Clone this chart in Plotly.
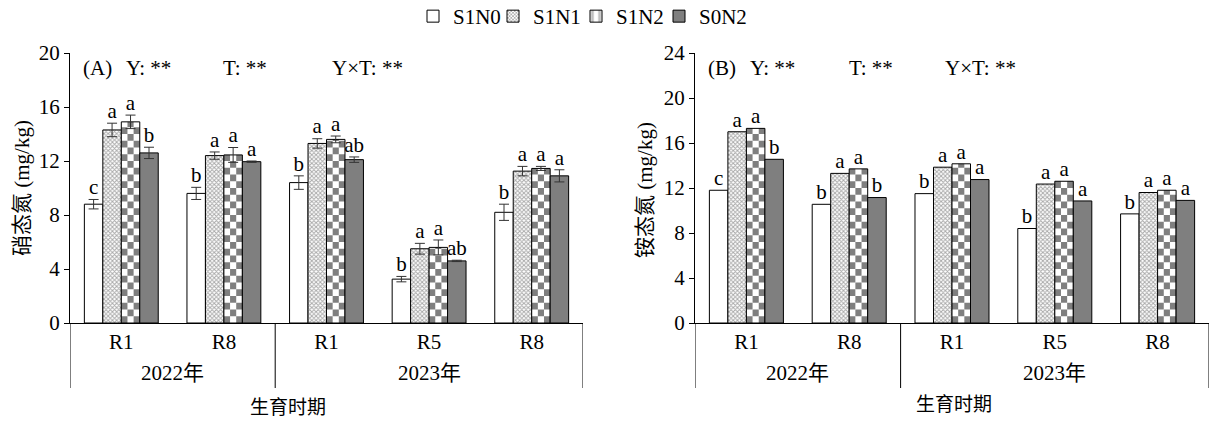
import numpy as np
import plotly.graph_objects as go

# ---- data ----
stages = ["R1", "R8", "R1", "R5", "R8"]
years = ["2022年", "2023年"]
series = ["S1N0", "S1N1", "S1N2", "S0N2"]

# (A) nitrate nitrogen, mg/kg
no3_S1N0 = [8.8, 9.6, 10.4, 3.25, 8.2]
no3_S1N1 = [14.3, 12.4, 13.3, 5.5, 11.25]
no3_S1N2 = [14.9, 12.45, 13.6, 5.6, 11.45]
no3_S0N2 = [12.6, 11.95, 12.1, 4.6, 10.9]
no3_err_S1N0 = [0.35, 0.45, 0.5, 0.2, 0.6]
no3_err_S1N1 = [0.5, 0.27, 0.35, 0.4, 0.35]
no3_err_S1N2 = [0.5, 0.55, 0.25, 0.55, 0.15]
no3_err_S0N2 = [0.42, 0.05, 0.2, 0.05, 0.45]
no3_sig_S1N0 = ["c", "b", "b", "b", "b"]
no3_sig_S1N1 = ["a", "a", "a", "a", "a"]
no3_sig_S1N2 = ["a", "a", "a", "a", "a"]
no3_sig_S0N2 = ["b", "a", "ab", "ab", "a"]

# (B) ammonium nitrogen, mg/kg
nh4_S1N0 = [11.8, 10.55, 11.5, 8.4, 9.7]
nh4_S1N1 = [17.0, 13.3, 13.85, 12.35, 11.6]
nh4_S1N2 = [17.3, 13.7, 14.15, 12.6, 11.8]
nh4_S0N2 = [14.55, 11.15, 12.75, 10.85, 10.9]
nh4_sig_S1N0 = ["c", "b", "b", "b", "b"]
nh4_sig_S1N1 = ["a", "a", "a", "a", "a"]
nh4_sig_S1N2 = ["a", "a", "a", "a", "a"]
nh4_sig_S0N2 = ["b", "b", "a", "a", "a"]

stats_A = ["(A)", "Y: **", "T: **", "Y×T: **"]
stats_B = ["(B)", "Y: **", "T: **", "Y×T: **"]

# ---- style ----
W, H = 1211, 422
FONT = "Liberation Serif, Times New Roman, Noto Sans CJK SC, serif"
FS = 21
GREY = "#7f7f7f"
BAR_W = 0.18
NCOL = 3
# one single-entry legend per series, laid out left to right
LEGEND_IDS = {"S1N0": "legend", "S1N1": "legend2", "S1N2": "legend3", "S0N2": "legend4"}
LEGEND_X = {"S1N0": 413, "S1N1": 493, "S1N2": 576, "S0N2": 659}


def px_x(p):
    return p / W


def px_y(p):
    return 1 - p / H


def offset_of(k):
    return -2 * BAR_W + k * BAR_W


fig = go.Figure()


def err_spec(arr):
    return dict(type="data", array=arr, visible=arr is not None,
                color="#333", thickness=1, width=5)


def add_panel(xa, ya, vals, errs, sigs, cell_h, legend):
    xs = list(range(len(stages)))
    axis = dict(xaxis=xa, yaxis=ya)
    # S1N0: open white bars
    fig.add_bar(x=xs, y=vals[0], offset=offset_of(0), width=BAR_W, name="S1N0",
                marker=dict(color="white", line=dict(color="black", width=1)),
                error_y=err_spec(errs[0]), legend=LEGEND_IDS["S1N0"],
                showlegend=legend, legendgroup="S1N0", **axis)
    # S1N1: fine grey checker
    fig.add_bar(x=xs, y=vals[1], offset=offset_of(1), width=BAR_W, name="S1N1",
                marker=dict(color="white", line=dict(color="black", width=1),
                            pattern=dict(shape="x", fgcolor="#555555", bgcolor="white",
                                         size=3, solidity=0.55)),
                error_y=err_spec(errs[1]), legend=LEGEND_IDS["S1N1"],
                showlegend=legend, legendgroup="S1N1", **axis)
    # S1N2: coarse checkerboard built from grey cells on a white bar
    fig.add_bar(x=xs, y=vals[2], offset=offset_of(2), width=BAR_W,
                marker=dict(color="white", line=dict(width=0)),
                showlegend=False, hoverinfo="skip", **axis)
    cx, cb, ch, co = [], [], [], []
    cw = BAR_W / NCOL
    for i, v in enumerate(vals[2]):
        nrow = int(np.ceil(v / cell_h))
        for r in range(nrow):
            b = r * cell_h
            top = min(v, b + cell_h)
            for c in range(NCOL):
                if (r + c) % 2 == 0:
                    cx.append(i)
                    cb.append(b)
                    ch.append(top - b)
                    co.append(offset_of(2) + c * cw)
    fig.add_bar(x=cx, y=ch, base=cb, offset=co, width=cw,
                marker=dict(color=GREY, line=dict(width=0)),
                showlegend=False, hoverinfo="skip", **axis)
    if legend:
        fig.add_bar(x=[None], y=[None], name="S1N2", legend=LEGEND_IDS["S1N2"],
                    marker=dict(color="white", line=dict(color="black", width=1),
                                pattern=dict(shape="|", fgcolor=GREY, bgcolor="white",
                                             size=9, solidity=0.4)),
                    legendgroup="S1N2", **axis)
    fig.add_bar(x=xs, y=vals[2], offset=offset_of(2), width=BAR_W,
                marker=dict(color="rgba(0,0,0,0)", line=dict(color="black", width=1)),
                error_y=err_spec(errs[2]),
                showlegend=False, legendgroup="S1N2", **axis)
    # S0N2: solid grey
    fig.add_bar(x=xs, y=vals[3], offset=offset_of(3), width=BAR_W, name="S0N2",
                marker=dict(color=GREY, line=dict(color="black", width=1)),
                error_y=err_spec(errs[3]), legend=LEGEND_IDS["S0N2"],
                showlegend=legend, legendgroup="S0N2", **axis)
    # significance letters
    for k in range(4):
        e = errs[k] if errs[k] is not None else [0] * len(xs)
        fig.add_scatter(x=[i + offset_of(k) + BAR_W / 2 for i in xs],
                        y=[v + d for v, d in zip(vals[k], e)],
                        mode="text", text=sigs[k], textposition="top center",
                        textfont=dict(family=FONT, size=FS, color="black"),
                        showlegend=False, hoverinfo="skip", **axis)


add_panel("x", "y",
          [no3_S1N0, no3_S1N1, no3_S1N2, no3_S0N2],
          [no3_err_S1N0, no3_err_S1N1, no3_err_S1N2, no3_err_S0N2],
          [no3_sig_S1N0, no3_sig_S1N1, no3_sig_S1N2, no3_sig_S0N2],
          0.5, True)
add_panel("x2", "y2",
          [nh4_S1N0, nh4_S1N1, nh4_S1N2, nh4_S0N2],
          [None, None, None, None],
          [nh4_sig_S1N0, nh4_sig_S1N1, nh4_sig_S1N2, nh4_sig_S0N2],
          0.6, False)

ydom = [px_y(323), px_y(53)]
xcommon = dict(range=[-0.5, 4.5], tickvals=list(range(5)), ticktext=stages,
               showline=True, linecolor="black", linewidth=1, ticks="",
               showgrid=False, zeroline=False, automargin=False,
               tickfont=dict(family=FONT, size=FS, color="black"))
ycommon = dict(showline=True, linecolor="black", linewidth=1, ticks="outside",
               ticklen=5, tickcolor="black", showgrid=False, zeroline=False,
               automargin=False,
               tickfont=dict(family=FONT, size=FS, color="black"))

legends = {}
for name, lid in LEGEND_IDS.items():
    legends[lid] = dict(orientation="h", x=px_x(LEGEND_X[name]), xanchor="left",
                        y=px_y(-4), yanchor="top", itemwidth=30,
                        font=dict(family=FONT, size=FS, color="black"),
                        bgcolor="rgba(0,0,0,0)")

fig.update_layout(
    width=W, height=H,
    margin=dict(l=0, r=0, t=0, b=0, autoexpand=False),
    paper_bgcolor="white", plot_bgcolor="white",
    barmode="overlay",
    xaxis=dict(domain=[px_x(70), px_x(583)], anchor="y", **xcommon),
    yaxis=dict(domain=ydom, range=[0, 20], dtick=4, anchor="x", **ycommon),
    xaxis2=dict(domain=[px_x(695), px_x(1209)], anchor="y2", **xcommon),
    yaxis2=dict(domain=ydom, range=[0, 24], dtick=4, anchor="x2", **ycommon),
    font=dict(family=FONT, color="black"),
    **legends,
)


def label(x, y, text, xref="paper", size=FS, angle=0, xanchor="center"):
    fig.add_annotation(xref=xref, yref="paper", x=x, y=y, text=text,
                       textangle=angle, showarrow=False,
                       xanchor=xanchor, yanchor="middle",
                       font=dict(family=FONT, size=size, color="black"))


# group brackets below the category axis
for xr in ["x", "x2"]:
    for xb in [-0.5, 1.5, 4.5]:
        fig.add_shape(type="line", xref=xr, yref="paper", x0=xb, x1=xb,
                      y0=px_y(388), y1=px_y(323), line=dict(color="black", width=1))
    for xc, yr in zip([0.5, 3], years):
        label(xc, px_y(373), yr, xref=xr)

# axis titles
label(px_x(22), px_y(188), "硝态氮 (mg/kg)", angle=-90)
label(px_x(645), px_y(190), "铵态氮 (mg/kg)", angle=-90)
label(px_x(288), px_y(407), "生育时期", size=19)
label(px_x(954), px_y(404), "生育时期", size=19)

# statistics headers
for xs_px, labels in [([81, 124, 221, 330], stats_A), ([706, 748, 847, 943], stats_B)]:
    for p, t in zip(xs_px, labels):
        label(px_x(p), px_y(68), t, xanchor="left")

fig.write_html("out.html")
